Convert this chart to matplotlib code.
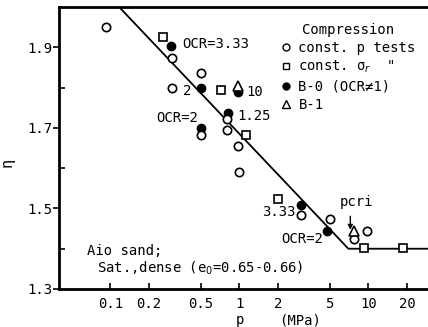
import numpy as np
import matplotlib
matplotlib.use('Agg')
import matplotlib.pyplot as plt
from matplotlib.lines import Line2D

plt.rcParams['font.family'] = ['DejaVu Sans Mono']
plt.rcParams['mathtext.fontset'] = 'dejavusans'

# const. p tests (open circles)
p_const_p = [0.093, 0.30, 0.30, 0.50, 0.50, 0.80, 0.80, 0.98, 1.0, 3.0, 5.0, 7.8, 9.8]
eta_const_p = [1.95, 1.873, 1.80, 1.835, 1.683, 1.722, 1.695, 1.655, 1.59, 1.483, 1.473, 1.425, 1.445]

# const. sigma_r tests (open squares)
p_const_sr = [0.258, 0.72, 1.13, 2.0, 9.3, 18.4]
eta_const_sr = [1.925, 1.793, 1.683, 1.523, 1.403, 1.403]

# B-0 (OCR != 1), filled circles
p_b0 = [0.297, 0.50, 0.50, 0.98, 0.81, 3.0, 4.8]
eta_b0 = [1.903, 1.80, 1.70, 1.788, 1.738, 1.508, 1.445]

# B-1, open triangles
p_b1 = [0.98, 7.7]
eta_b1 = [1.805, 1.445]

# fitted bilinear line
p_fit = [0.117, 7.0, 30.0]
eta_fit = [2.0, 1.40, 1.40]

xticks = [0.1, 0.2, 0.5, 1, 2, 5, 10, 20]
xticklabels = ['0.1', '0.2', '0.5', '1', '2', '5', '10', '20']
yticks = [1.3, 1.5, 1.7, 1.9]

# OCR labels next to points: (text, p, eta)
ocr_labels = [
    ('OCR=3.33', 0.361, 1.9075),
    ('2', 0.368, 1.7925),
    ('10', 1.13, 1.79),
    ('1.25', 0.965, 1.73),
    ('OCR=2', 0.227, 1.725),
    ('3.33', 1.51, 1.49),
    ('OCR=2', 2.12, 1.425),
]

fig = plt.figure(figsize=(4.28, 3.27), dpi=100)
ax = fig.add_axes([59 / 428, 1 - 289 / 327, 369 / 428, 282 / 327])

ax.plot(p_fit, eta_fit, 'k-', lw=1.3, zorder=2)

ms = 6
ax.plot(p_b0, eta_b0, 'o', ms=ms, mfc='k', mec='k', zorder=3)
ax.plot(p_const_p, eta_const_p, 'o', ms=ms, mfc='white', mec='k', mew=1.2, zorder=4)
ax.plot(p_const_sr, eta_const_sr, 's', ms=ms, mfc='white', mec='k', mew=1.2, zorder=4)
ax.plot(p_b1, eta_b1, '^', ms=ms + 1, mfc='white', mec='k', mew=1.2, zorder=5)

for txt, xx, yy in ocr_labels:
    ax.text(xx, yy, txt, fontsize=10, va='center', ha='left', zorder=6)

ax.text(5.96, 1.515, 'pcri', fontsize=10, va='center', ha='left')
ax.annotate('', xy=(7.25, 1.44), xytext=(7.25, 1.4875),
            arrowprops=dict(arrowstyle='-|>', color='k', lw=1, mutation_scale=7))

ax.text(0.077, 0.135, 'Aio sand;', transform=ax.transAxes, fontsize=10, va='center')
ax.text(0.104, 0.073, 'Sat.,dense (e$_0$=0.65-0.66)', transform=ax.transAxes,
        fontsize=10, va='center')

ax.set_xscale('log')
ax.set_xlim(0.04, 29)
ax.set_ylim(1.3, 2.0)
ax.set_xticks(xticks)
ax.set_xticklabels(xticklabels)
ax.xaxis.set_minor_locator(matplotlib.ticker.NullLocator())
ax.set_yticks(yticks)
ax.set_yticks([1.4, 1.6, 1.8], minor=True)
ax.tick_params(axis='x', direction='in', length=4, width=1.2, labelsize=10, pad=6)
ax.tick_params(axis='y', which='major', direction='out', length=4, width=1.2, labelsize=10, pad=1)
ax.tick_params(axis='y', which='minor', direction='in', length=4, width=1.2)

for side in ['left', 'bottom', 'top']:
    ax.spines[side].set_linewidth(2)
ax.spines['right'].set_visible(False)

ax.set_ylabel('η', fontsize=11)
ax.yaxis.set_label_coords(-0.12, 0.45)
ax.text(0.49, -0.11, 'p', transform=ax.transAxes, fontsize=10, ha='center', va='center')
ax.text(0.653, -0.11, '(MPa)', transform=ax.transAxes, fontsize=10, ha='center', va='center')

handles = [
    Line2D([], [], ls='none', marker='o', ms=5, mfc='white', mec='k'),
    Line2D([], [], ls='none', marker='s', ms=5, mfc='white', mec='k'),
    Line2D([], [], ls='none', marker='o', ms=5, mfc='k', mec='k'),
    Line2D([], [], ls='none', marker='^', ms=6, mfc='white', mec='k'),
]
labels = ['const. p tests', 'const. σ$_r$  "', 'B-0 (OCR≠1)', 'B-1']
leg = ax.legend(handles, labels, title='Compression', loc='upper left',
                bbox_to_anchor=(0.6, 0.945), frameon=False, fontsize=10,
                title_fontsize=10, handlelength=0.8, handletextpad=0.5,
                labelspacing=0.3, borderpad=0, borderaxespad=0)

fig.savefig('out.png', dpi=100)
